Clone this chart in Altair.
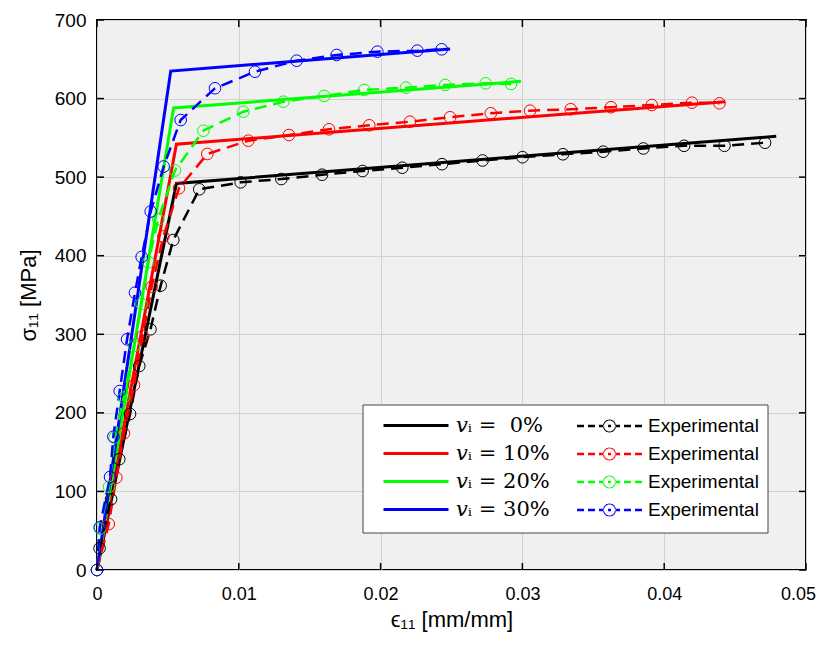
import altair as alt
import pandas as pd

# ---------------- data ----------------
series_keys = ["0%", "10%", "20%", "30%"]
model_labels = ["𝑣ᵢ = \u00a00%", "𝑣ᵢ = 10%", "𝑣ᵢ = 20%", "𝑣ᵢ = 30%"]
exp_labels = ["Experimental 0", "Experimental 10", "Experimental 20", "Experimental 30"]
series_colors = ["#000000", "#ff0000", "#00ff00", "#0000ff"]

model_x = {
    "0%": [0, 0.0056, 0.0479],
    "10%": [0, 0.0056, 0.0443],
    "20%": [0, 0.0054, 0.0299],
    "30%": [0, 0.0052, 0.0249],
}
model_y = {
    "0%": [0, 492, 552],
    "10%": [0, 542, 596],
    "20%": [0, 588, 622],
    "30%": [0, 635, 663],
}

exp_x = {
    "0%": [0, 0.00018, 0.00099, 0.00157, 0.00233, 0.00298, 0.00377, 0.00449, 0.00538,
           0.00721, 0.01013, 0.01300, 0.01587, 0.01873, 0.02153, 0.02433, 0.02719,
           0.03001, 0.03286, 0.03570, 0.03853, 0.04140, 0.04425, 0.04711],
    "10%": [0, 0.00083, 0.00136, 0.0019, 0.00261, 0.00322, 0.00386, 0.00468, 0.00578,
            0.00778, 0.01067, 0.01354, 0.01636, 0.0192, 0.02207, 0.0249, 0.02777,
            0.03054, 0.03341, 0.03625, 0.03912, 0.04196, 0.0439],
    "20%": [0, 0.00021, 0.00085, 0.00125, 0.00188, 0.00261, 0.00314, 0.00362, 0.00432,
            0.0055, 0.0075, 0.01032, 0.01314, 0.01603, 0.01885, 0.02179, 0.02456,
            0.02741, 0.0292],
    "30%": [0, 0.00019, 0.00092, 0.00115, 0.0016, 0.00212, 0.00268, 0.00315, 0.00379,
            0.0047, 0.0059, 0.00832, 0.01114, 0.01408, 0.0169, 0.01977, 0.02259, 0.02431],
}
exp_y = {
    "0%": [0, 27.6, 90, 141, 198.5, 259.6, 306.3, 361.9, 420, 484.5, 493.4, 497.6, 503.1,
           507.8, 512.0, 516.5, 521.2, 525.4, 529.1, 532.4, 536.5, 539.9, 539.9, 543.8],
    "10%": [0, 58.5, 117.5, 174, 235.5, 297.8, 360.6, 424.5, 485.8, 529.5, 546.4, 553.6,
            560.9, 566, 570.6, 576.2, 581.3, 584.6, 586.4, 589, 591.8, 594.8, 594],
    "20%": [0, 52.8, 106, 168.6, 219.5, 285, 338.6, 391.7, 446.4, 508.5, 559.1, 583.3,
            596, 603.3, 611, 613.9, 617.3, 619.4, 618.6],
    "30%": [0, 54.3, 118.4, 169.7, 227.8, 293.6, 353, 398.4, 456.3, 513.5, 572.7, 613.1,
            634.2, 648.2, 655.5, 659.7, 661, 662.7],
}

x_ticks = [0, 0.01, 0.02, 0.03, 0.04, 0.05]
y_ticks = [0, 100, 200, 300, 400, 500, 600, 700]

# ---------------- tables ----------------
rows_m, rows_e = [], []
for k, ml, el in zip(series_keys, model_labels, exp_labels):
    for i, (x, y) in enumerate(zip(model_x[k], model_y[k])):
        rows_m.append({"mkey": ml, "x": x, "y": y, "i": i})
    for i, (x, y) in enumerate(zip(exp_x[k], exp_y[k])):
        rows_e.append({"ekey": el, "x": x, "y": y, "i": i})
df_m = pd.DataFrame(rows_m)
df_e = pd.DataFrame(rows_e)
df_xt = pd.DataFrame({"x": x_ticks})
df_yt = pd.DataFrame({"y": y_ticks})

# ---------------- legend symbols (custom paths, unit = 10 px) ----------------
def rect(a, b, h):
    return f"M{a},{-h}L{b},{-h}L{b},{h}L{a},{h}Z"

def ring(c, R, r):
    outer = f"M{c+R},0A{R},{R},0,1,0,{c-R},0A{R},{R},0,1,0,{c+R},0Z"
    inner = f"M{c+r},0A{r},{r},0,1,1,{c-r},0A{r},{r},0,1,1,{c+r},0Z"
    return outer + inner

P_MOD = "M0,0L6.5,0"
P_EXP = (rect(0, 0.7, 0.125) + rect(1.1, 1.8, 0.125) + rect(2.2, 2.65, 0.125)
         + ring(3.25, 0.65, 0.55) + rect(3.1, 3.4, 0.125)
         + rect(3.85, 4.3, 0.125) + rect(4.7, 5.4, 0.125) + rect(5.8, 6.5, 0.125))

legend_model = alt.Legend(
    title=None, orient="none", legendX=275, legendY=394, columns=1,
    padding=0, rowPadding=6, symbolType=P_MOD, symbolSize=400, symbolStrokeWidth=3,
    labelOffset=61, labelFontSize=21, labelFont="DejaVu Serif", labelColor="black",
    labelLimit=300,
)
legend_exp = alt.Legend(
    title=None, orient="none", legendX=470, legendY=396, columns=1,
    padding=0, rowPadding=8, symbolType=P_EXP, symbolSize=400, symbolStrokeWidth=0,
    symbolOpacity=1, labelOffset=61, labelFontSize=19, labelFont="Liberation Sans",
    labelColor="black", labelLimit=300, labelExpr="'Experimental'",
)

xs = alt.Scale(domain=[0, 0.05], nice=False, zero=False)
ys = alt.Scale(domain=[0, 700], nice=False, zero=False)

x_axis = alt.Axis(values=x_ticks, format=".2~f", title="ϵ₁₁ [mm/mm]", grid=True, ticks=False,
                  domain=False, labelFlush=False, labelPadding=15, labelFontSize=18,
                  labelOffset={"condition": {"test": "datum.value > 0.045", "value": -8},
                               "value": 0},
                  titlePadding=6)
y_axis = alt.Axis(values=y_ticks, title="σ₁₁ [MPa]", grid=True, ticks=False,
                  domain=False, labelFlush=False, labelPadding=11, titlePadding=14)

m_color = alt.Color("mkey:N", scale=alt.Scale(domain=model_labels, range=series_colors),
                    legend=legend_model)
e_stroke = alt.Stroke("ekey:N", scale=alt.Scale(domain=exp_labels, range=series_colors),
                      legend=None)
e_fill = alt.Fill("ekey:N", scale=alt.Scale(domain=exp_labels, range=series_colors),
                  legend=legend_exp)

model = alt.Chart(df_m).mark_line(strokeWidth=3).encode(
    x=alt.X("x:Q", scale=xs, axis=x_axis), y=alt.Y("y:Q", scale=ys, axis=y_axis),
    color=m_color, order="i:Q")
exp_line = alt.Chart(df_e).mark_line(strokeWidth=2.5, strokeDash=[12, 7]).encode(
    x="x:Q", y="y:Q", stroke=e_stroke, order="i:Q")
exp_pts = alt.Chart(df_e).mark_point(shape="circle", filled=False, size=135,
                                     strokeWidth=1, opacity=1).encode(
    x="x:Q", y="y:Q", stroke=e_stroke)

# legend frame (drawn under the legends)
frame = alt.Chart(pd.DataFrame({"a": [0]})).mark_rect(
    fill="white", stroke="#444444", strokeWidth=1).encode(
    x=alt.value(266), x2=alt.value(671), y=alt.value(385), y2=alt.value(513))
# empty layer that only carries the experimental legend
exp_legend_layer = alt.Chart(df_e).mark_point(filled=True, opacity=1).encode(
    x="x:Q", y="y:Q", fill=e_fill).transform_filter("false")

tick_len = 7
xt_bot = alt.Chart(df_xt).mark_rule(color="black", strokeWidth=1.5).encode(
    x="x:Q", y=alt.value(550), y2=alt.value(550 - tick_len))
xt_top = alt.Chart(df_xt).mark_rule(color="black", strokeWidth=1.5).encode(
    x="x:Q", y=alt.value(0), y2=alt.value(tick_len))
yt_left = alt.Chart(df_yt).mark_rule(color="black", strokeWidth=1.5).encode(
    y="y:Q", x=alt.value(0), x2=alt.value(tick_len))
yt_right = alt.Chart(df_yt).mark_rule(color="black", strokeWidth=1.5).encode(
    y="y:Q", x=alt.value(709), x2=alt.value(709 - tick_len))

chart = alt.layer(
    model, exp_line, exp_pts, xt_bot, xt_top, yt_left, yt_right, frame, exp_legend_layer
).resolve_scale(color="independent", stroke="independent", fill="independent").properties(
    width=709, height=550,
    autosize=alt.AutoSizeParams(type="none"),
    padding={"left": 89, "top": 12, "right": 10, "bottom": 64},
    background="white",
).configure_view(
    fill="#f0f0f0", stroke="black", strokeWidth=2
).configure_axis(
    labelFont="Liberation Sans", labelFontSize=19, labelColor="black",
    titleFont="Liberation Sans", titleFontSize=22, titleFontWeight="normal", titleColor="black",
    gridColor="#d2d2d2", gridWidth=1,
)

chart.save("out.html", embed_options={"renderer": "svg", "actions": False})
